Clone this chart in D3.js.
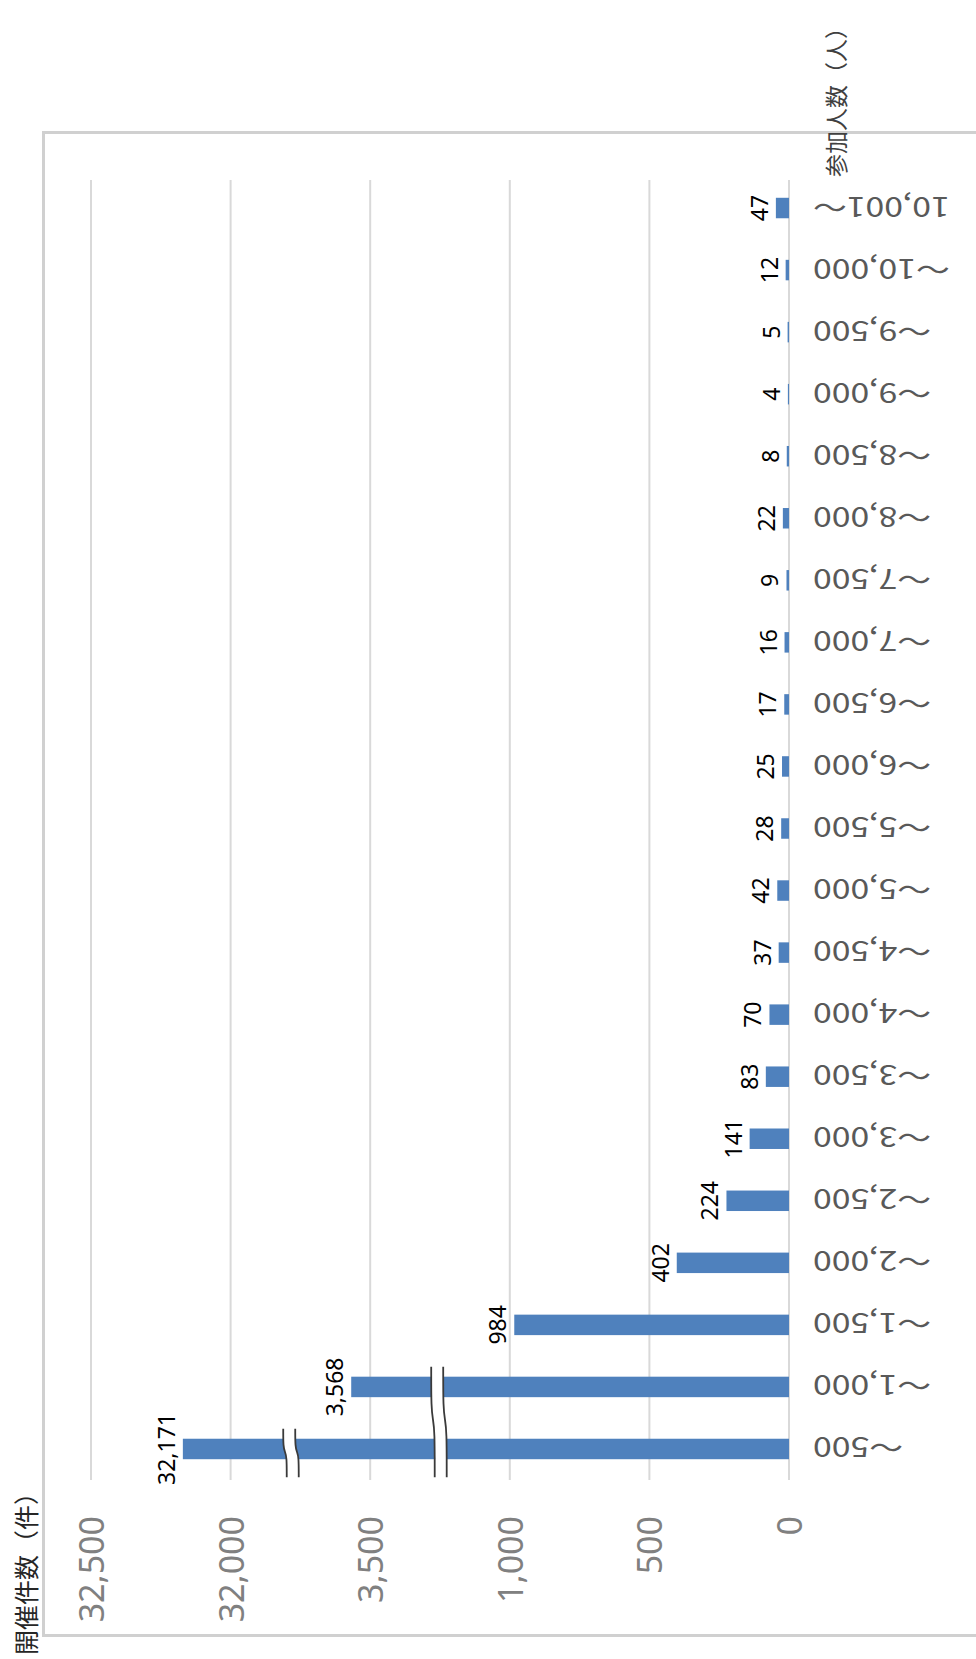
<!DOCTYPE html>
<html>
<head>
<meta charset="utf-8">
<script src="https://cdn.jsdelivr.net/npm/d3@7"></script>
<style>
  body { margin: 0; background: #fff; }
  svg { display: block; }
</style>
</head>
<body>
<script>
// participants per event (categories, bottom to top) and number of events
var categories = ['～500', '～1,000', '～1,500', '～2,000', '～2,500', '～3,000', '～3,500',
  '～4,000', '～4,500', '～5,000', '～5,500', '～6,000', '～6,500', '～7,000', '～7,500',
  '～8,000', '～8,500', '～9,000', '～9,500', '～10,000', '10,001～'];
var counts = [32171, 3568, 984, 402, 224, 141, 83, 70, 37, 42, 28, 25, 17, 16, 9, 22, 8, 4, 5, 12, 47];

// the value axis is broken: each stretch shows a different range of real values
var tickSteps = [0, 500, 1000, 1500, 2000, 2500];
var tickLabels = ['0', '500', '1,000', '3,500', '32,000', '32,500'];
var axisFrom = [0, 3500, 32000];   // real value where a stretch begins
var axisAt = [0, 1500, 2000];      // axis position of that stretch

// break marks (axis position, categories they cross)
var breakAt = [1260, 1790];
var breakCats = [['～500', '～1,000'], ['～500']];

var valueTitle = '開催件数（件）';
var catTitle = '参加人数（人）';

var W = 976, H = 1659;
var plotTop = 177, plotBottom = 1480;

function toAxis(v) {
  let i = 0;
  for (let k = 0; k < axisFrom.length; k++) {
    if (v >= axisFrom[k]) i = k;
  }
  return axisAt[i] + (v - axisFrom[i]);
}

var svg = d3.select('body')
  .append('svg')
  .attr('width', W)
  .attr('height', H);

// chart frame
svg.append('rect')
  .attr('x', 43.5)
  .attr('y', 132.5)
  .attr('width', 1000)
  .attr('height', 1503)
  .attr('fill', 'none')
  .attr('stroke', '#d0d0d0')
  .attr('stroke-width', 3);

var x = d3.scaleLinear()
  .domain([0, 2500])
  .range([789, 91]);

var y = d3.scaleBand()
  .domain(categories)
  .range([plotBottom, plotTop])
  .paddingInner(0.67)
  .paddingOuter(0.335);

// gridlines
svg.selectAll('line.grid')
  .data(tickSteps)
  .enter()
  .append('line')
    .attr('class', 'grid')
    .attr('x1', d => x(d))
    .attr('x2', d => x(d))
    .attr('y1', 180)
    .attr('y2', plotBottom)
    .attr('stroke', '#d9d9d9')
    .attr('stroke-width', 2);

// value tick labels
svg.selectAll('text.tick')
  .data(tickSteps)
  .enter()
  .append('text')
    .attr('class', 'tick')
    .attr('transform', d => `translate(${x(d)},1516) rotate(-90)`)
    .attr('text-anchor', 'end')
    .attr('dominant-baseline', 'central')
    .attr('font-family', '"Noto Sans", sans-serif')
    .attr('font-size', '34px')
    .attr('fill', '#808080')
    .text((d, i) => tickLabels[i]);

// bars
svg.selectAll('rect.bar')
  .data(counts)
  .enter()
  .append('rect')
    .attr('class', 'bar')
    .attr('x', d => x(toAxis(d)))
    .attr('y', (d, i) => y(categories[i]))
    .attr('width', d => x(0) - x(toAxis(d)))
    .attr('height', y.bandwidth())
    .attr('fill', '#4f81bd');

// break marks
var kink = d3.line().curve(d3.curveBasis);
breakAt.forEach((b, i) => {
  let cats = breakCats[i];
  let y0 = d3.min(cats, c => y(c)) - 10;
  let y1 = d3.max(cats, c => y(c) + y.bandwidth()) + 18;
  let h = y1 - y0;
  let bx = x(b);
  let shape = (ox) => [
    [bx + ox, y0], [bx + ox, y0 + h * 0.38], [bx + ox + 1.8, y0 + h * 0.48],
    [bx + ox + 3.5, y0 + h * 0.58], [bx + ox + 3.5, y1]
  ];
  let left = shape(-6), right = shape(6);
  svg.append('path')
    .attr('d', kink(left.concat(right.slice().reverse())) + 'Z')
    .attr('fill', '#fff');
  [left, right].forEach(p => {
    svg.append('path')
      .attr('d', kink(p))
      .attr('fill', 'none')
      .attr('stroke', '#3a3a3a')
      .attr('stroke-width', 1.8);
  });
});

// data labels
svg.selectAll('text.value')
  .data(counts)
  .enter()
  .append('text')
    .attr('class', 'value')
    .attr('transform', (d, i) => `translate(${x(toAxis(d)) - 8},${y(categories[i]) + y.bandwidth() / 2}) rotate(-90)`)
    .attr('text-anchor', 'middle')
    .attr('font-family', '"Noto Sans", sans-serif')
    .attr('font-size', '23px')
    .attr('fill', '#000')
    .text(d => d3.format(',')(d));

// category labels (upside down)
svg.selectAll('text.cat')
  .data(categories)
  .enter()
  .append('text')
    .attr('class', 'cat')
    .attr('transform', d => `translate(813,${y(d) + y.bandwidth() / 2}) rotate(180) scale(1.25,1)`)
    .attr('text-anchor', 'end')
    .attr('dominant-baseline', 'central')
    .attr('font-family', '"Noto Sans CJK JP", sans-serif')
    .attr('font-size', '27px')
    .attr('fill', '#595959')
    .text(d => d);

// axis titles
svg.append('text')
  .attr('transform', 'translate(835,177) rotate(-90)')
  .attr('text-anchor', 'start')
  .attr('dominant-baseline', 'central')
  .attr('font-family', '"Noto Sans CJK JP", sans-serif')
  .attr('font-size', '23px')
  .attr('fill', '#404040')
  .text(catTitle);

svg.append('text')
  .attr('transform', 'translate(25,1480) rotate(-90)')
  .attr('text-anchor', 'end')
  .attr('dominant-baseline', 'central')
  .attr('font-family', '"Noto Sans CJK JP", sans-serif')
  .attr('font-size', '25px')
  .attr('fill', '#262626')
  .text(valueTitle);
</script>
</body>
</html>
